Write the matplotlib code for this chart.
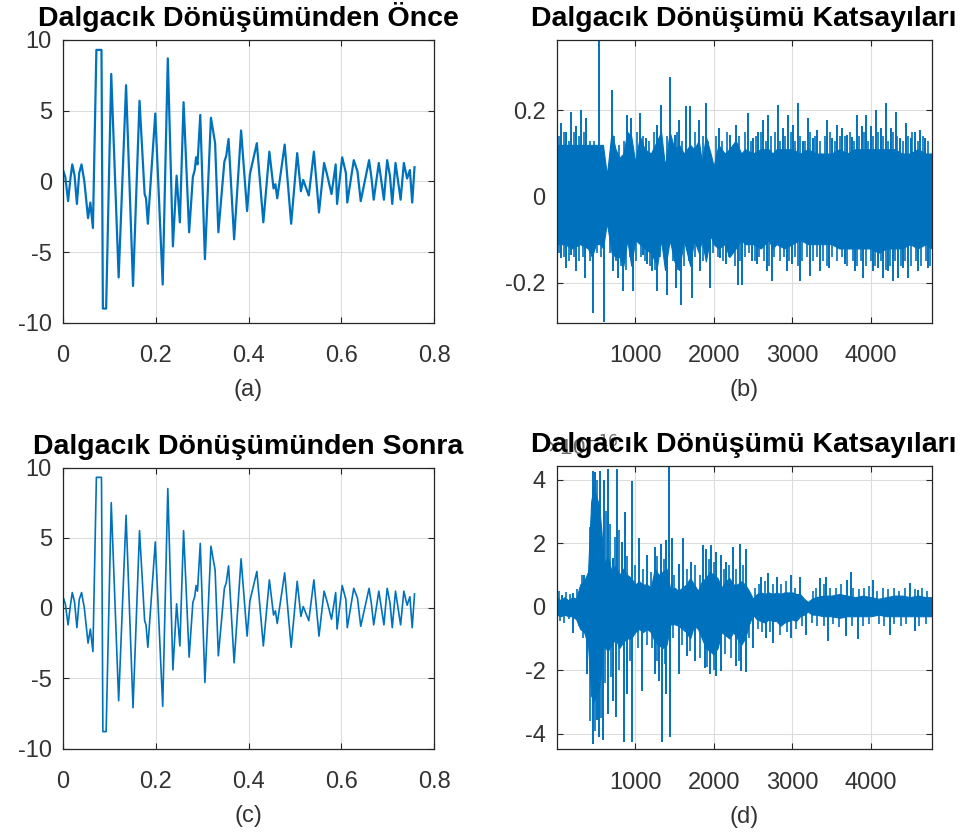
import matplotlib
matplotlib.use("Agg")
import matplotlib.pyplot as plt

plt.rcParams['font.family'] = ['Liberation Sans', 'DejaVu Sans']
plt.rcParams['axes.unicode_minus'] = False

# ---------------- data ----------------
# (a) signal before the wavelet transform: (time s, amplitude)
a_t = [0.000, 0.005, 0.011, 0.016, 0.020, 0.025, 0.030, 0.035, 0.040, 0.046, 0.054, 0.059, 0.0645,
       0.072, 0.083, 0.086, 0.093, 0.104, 0.120, 0.136, 0.151, 0.165, 0.176, 0.179, 0.183, 0.199,
       0.215, 0.226, 0.237, 0.245, 0.252, 0.260, 0.272, 0.280, 0.284, 0.287, 0.290, 0.296, 0.306,
       0.319, 0.328, 0.335, 0.348, 0.352, 0.357, 0.369, 0.384, 0.397, 0.403, 0.418, 0.432, 0.445,
       0.454, 0.458, 0.462, 0.478, 0.492, 0.505, 0.513, 0.518, 0.530, 0.541, 0.552, 0.563, 0.570,
       0.579, 0.588, 0.591, 0.602, 0.610, 0.613, 0.627, 0.635, 0.642, 0.660, 0.665, 0.670, 0.681,
       0.692, 0.699, 0.705, 0.710, 0.717, 0.728, 0.735, 0.742, 0.748, 0.753, 0.758]
a_y = [0.8, 0.3, -1.4, 0.2, 1.2, 0.4, -1.6, 0.6, 1.2, 0.0, -2.6, -1.5, -3.3,
       9.3, 9.3, -9.0, -9.0, 7.6, -6.8, 6.8, -7.4, 5.7, -0.9, -1.2, -3.0, 4.8,
       -7.3, 8.7, -4.6, 0.4, -2.9, 5.6, -3.6, 0.3, 0.8, 1.7, 1.2, 4.7, -5.5,
       4.5, 2.7, -3.6, 1.4, 1.8, 3.0, -4.1, 3.6, -2.1, 0.5, 2.7, -2.9, 2.1,
       -0.5, -0.2, -1.2, 2.6, -3.0, 2.0, -0.7, 0.1, -1.0, 2.1, -2.2, 1.3, 0.4,
       -0.9, 1.2, -1.6, 1.7, 0.6, -1.5, 1.5, 0.7, -1.4, 1.5, 0.3, -1.3, 1.3,
       -1.3, 1.5, 0.4, -1.6, 1.3, -1.3, 1.3, 0.2, 0.8, -1.5, 1.0]

# (c) signal after the wavelet transform
c_t = list(a_t)
c_y = [0.8, 0.3, -1.2, 0.2, 1.1, 0.4, -1.4, 0.6, 1.1, 0.0, -2.5, -1.5, -3.1,
       9.3, 9.3, -8.8, -8.8, 7.5, -6.6, 6.6, -7.1, 5.5, -0.9, -1.2, -2.8, 4.7,
       -7.0, 8.5, -4.4, 0.3, -2.7, 5.5, -3.5, 0.4, 0.8, 1.6, 1.2, 4.6, -5.3,
       4.4, 2.7, -3.4, 1.4, 1.8, 3.0, -3.9, 3.5, -2.0, 0.5, 2.6, -2.7, 2.0,
       -0.5, -0.2, -1.1, 2.5, -2.8, 1.9, -0.6, 0.1, -0.9, 2.0, -2.0, 1.2, 0.4,
       -0.8, 1.1, -1.5, 1.6, 0.6, -1.4, 1.4, 0.7, -1.3, 1.4, 0.3, -1.2, 1.2,
       -1.2, 1.4, 0.4, -1.4, 1.2, -1.2, 1.2, 0.2, 0.8, -1.4, 1.0]

# (b) wavelet coefficients: dense core band, spike tips and small edge teeth
b_core_idx = [1, 100, 200, 300, 400, 450, 500, 560, 590, 640, 700, 750, 800, 850, 900, 950, 1000,
              1060, 1120, 1200, 1280, 1330, 1380, 1440, 1500, 1560, 1620, 1700, 1750, 1810, 1850,
              1900, 1960, 2000, 2060, 2140, 2200, 2280, 2350, 2400, 2500, 2600, 2700, 2750, 2800,
              2900, 3000, 3100, 3200, 3300, 3400, 3500, 3600, 3700, 3800, 3900, 4000, 4100, 4200,
              4300, 4400, 4500, 4600, 4700, 4776]
b_core_hi = [0.12, 0.12, 0.12, 0.12, 0.12, 0.12, 0.12, 0.12, 0.12, 0.05, 0.15, 0.11, 0.09, 0.10,
             0.15, 0.14, 0.08, 0.14, 0.11, 0.10, 0.13, 0.15, 0.07, 0.15, 0.11, 0.12, 0.10, 0.12,
             0.11, 0.13, 0.08, 0.14, 0.10, 0.07, 0.12, 0.10, 0.11, 0.13, 0.10, 0.11, 0.10, 0.11,
             0.11, 0.10, 0.11, 0.11, 0.11, 0.10, 0.11, 0.10, 0.10, 0.10, 0.11, 0.10, 0.11, 0.11,
             0.11, 0.11, 0.11, 0.11, 0.10, 0.10, 0.11, 0.10, 0.10]
b_core_lo = [-0.11, -0.11, -0.12, -0.11, -0.12, -0.14, -0.11, -0.11, -0.12, -0.06, -0.13, -0.14,
             -0.14, -0.16, -0.10, -0.16, -0.10, -0.11, -0.12, -0.13, -0.16, -0.10, -0.17, -0.10,
             -0.15, -0.17, -0.10, -0.16, -0.10, -0.13, -0.10, -0.15, -0.09, -0.11, -0.12, -0.11,
             -0.14, -0.12, -0.10, -0.11, -0.11, -0.12, -0.10, -0.12, -0.11, -0.12, -0.11, -0.10,
             -0.11, -0.11, -0.11, -0.11, -0.12, -0.12, -0.12, -0.12, -0.12, -0.13, -0.12, -0.12,
             -0.12, -0.11, -0.12, -0.11, -0.12]
b_up_idx = [62, 125, 189, 253, 316, 380, 538, 699, 890, 941, 1067, 1143, 1279, 1335, 1449, 1504,
            1560, 1645, 1696, 1814, 1899, 2069, 2205, 2281, 2442, 2506, 2570, 2633, 2697, 2816,
            2879, 2943, 3015, 3070, 3133, 3197, 3269, 3320, 3447, 3511, 3575, 3638, 3693, 3757,
            3820, 3884, 3939, 4003, 4062, 4126, 4189, 4253, 4317, 4372, 4444, 4507, 4562, 4626,
            4689]
b_up_val = [0.17, 0.15, 0.197, 0.163, 0.20, 0.182, 0.363, 0.247, 0.189, 0.182, 0.193, 0.136,
            0.166, 0.212, 0.278, 0.143, 0.178, 0.209, 0.209, 0.178, 0.216, 0.159, 0.143, 0.166,
            0.193, 0.136, 0.15, 0.178, 0.19, 0.212, 0.159, 0.19, 0.166, 0.216, 0.128, 0.182,
            0.136, 0.155, 0.178, 0.136, 0.166, 0.159, 0.143, 0.139, 0.19, 0.163, 0.19, 0.163,
            0.20, 0.159, 0.216, 0.159, 0.197, 0.136, 0.17, 0.136, 0.15, 0.155, 0.136]
b_dn_idx = [62, 125, 189, 253, 359, 457, 602, 720, 784, 848, 975, 1101, 1156, 1220, 1279, 1407,
            1517, 1589, 1730, 1823, 1950, 2078, 2163, 2311, 2357, 2485, 2548, 2676, 2739, 2930,
            2994, 3100, 3227, 3354, 3473, 3672, 3799, 3905, 4033, 4096, 4160, 4223, 4278, 4351,
            4414, 4478, 4605, 4732]
b_dn_val = [-0.141, -0.165, -0.134, -0.172, -0.188, -0.27, -0.29, -0.172, -0.188, -0.219, -0.219,
            -0.134, -0.157, -0.172, -0.219, -0.227, -0.212, -0.25, -0.234, -0.172, -0.212, -0.141,
            -0.157, -0.204, -0.204, -0.149, -0.157, -0.172, -0.196, -0.172, -0.157, -0.196,
            -0.184, -0.172, -0.165, -0.157, -0.172, -0.188, -0.172, -0.165, -0.188, -0.172,
            -0.196, -0.188, -0.165, -0.188, -0.172, -0.165]
b_tooth_up_idx = [30, 95, 160, 220, 285, 350, 420, 480, 730, 790, 860, 1020, 1100, 1180, 1240,
                  1400, 1530, 1600, 1760, 1870, 1930, 2030, 2110, 2170, 2320, 2400, 2470, 2540,
                  2600, 2660, 2730, 2780, 2850, 2910, 2980, 3040, 3100, 3160, 3230, 3290, 3350,
                  3420, 3480, 3540, 3610, 3670, 3730, 3790, 3850, 3910, 3970, 4030, 4090, 4160,
                  4220, 4280, 4340, 4410, 4470, 4530, 4600, 4660, 4730]
b_tooth_up_val = [0.14, 0.15, 0.13, 0.15, 0.14, 0.15, 0.13, 0.13, 0.14, 0.12, 0.13, 0.15, 0.14,
                  0.13, 0.15, 0.14, 0.15, 0.13, 0.15, 0.14, 0.13, 0.14, 0.13, 0.15, 0.14, 0.15,
                  0.13, 0.14, 0.15, 0.13, 0.14, 0.15, 0.13, 0.14, 0.15, 0.13, 0.14, 0.13, 0.15,
                  0.14, 0.13, 0.14, 0.15, 0.13, 0.14, 0.14, 0.15, 0.13, 0.14, 0.15, 0.13, 0.14,
                  0.15, 0.14, 0.13, 0.15, 0.14, 0.13, 0.14, 0.15, 0.13, 0.14, 0.13]
b_tooth_dn_idx = [30, 95, 160, 220, 290, 330, 420, 520, 560, 680, 760, 820, 880, 940, 1010,
                  1070, 1130, 1190, 1250, 1320, 1380, 1480, 1550, 1620, 1690, 1760, 1860, 1920,
                  1990, 2050, 2120, 2200, 2270, 2340, 2400, 2450, 2520, 2580, 2640, 2700, 2770,
                  2840, 2900, 2960, 3030, 3070, 3130, 3190, 3260, 3320, 3390, 3440, 3510, 3570,
                  3640, 3700, 3770, 3830, 3880, 3940, 4000, 4060, 4130, 4190, 4250, 4310, 4380,
                  4440, 4510, 4570, 4640, 4700, 4760]
b_tooth_dn_val = [-0.13, -0.14, -0.15, -0.14, -0.15, -0.14, -0.15, -0.13, -0.14, -0.13, -0.15,
                  -0.16, -0.17, -0.14, -0.15, -0.14, -0.15, -0.16, -0.17, -0.14, -0.13, -0.15,
                  -0.17, -0.16, -0.15, -0.14, -0.15, -0.14, -0.13, -0.14, -0.15, -0.14, -0.16,
                  -0.15, -0.14, -0.13, -0.15, -0.14, -0.15, -0.16, -0.14, -0.15, -0.14, -0.15,
                  -0.14, -0.16, -0.15, -0.14, -0.15, -0.14, -0.15, -0.16, -0.14, -0.15, -0.14,
                  -0.16, -0.15, -0.16, -0.15, -0.16, -0.15, -0.16, -0.15, -0.17, -0.16, -0.15,
                  -0.16, -0.15, -0.16, -0.15, -0.16, -0.15, -0.16]

# (d) wavelet coefficients after the transform (x 1e-16)
d_core_idx = [1, 50, 100, 150, 200, 250, 300, 350, 400, 440, 470, 500, 540, 570, 600, 650, 700,
              750, 800, 850, 900, 950, 1000, 1050, 1100, 1150, 1200, 1250, 1300, 1350, 1400, 1450,
              1500, 1550, 1600, 1650, 1700, 1750, 1800, 1850, 1900, 1950, 2000, 2050, 2100, 2150,
              2200, 2250, 2300, 2350, 2400, 2450, 2500, 2550, 2600, 2650, 2700, 2750, 2800, 2850,
              2900, 2950, 3000, 3050, 3100, 3150, 3200, 3250, 3300, 3400, 3500, 3600, 3700, 3800,
              3900, 4000, 4100, 4200, 4300, 4400, 4500, 4600, 4700, 4776]
d_core_hi = [0.3, 0.2, 0.3, 0.2, 0.3, 0.25, 0.7, 0.8, 1.1, 3.3, 3.8, 3.5, 3.2, 2.4, 1.3, 1.6,
             1.1, 1.3, 1.0, 1.2, 1.0, 0.9, 0.7, 0.8, 0.7, 0.7, 0.6, 1.2, 1.0, 1.1, 1.2, 0.5, 0.6,
             0.5, 0.6, 0.7, 0.9, 0.7, 0.5, 0.8, 0.9, 1.1, 1.0, 0.9, 0.6, 0.8, 0.9, 0.7, 0.7, 0.8,
             0.7, 0.5, 0.25, 0.4, 0.45, 0.4, 0.45, 0.4, 0.45, 0.4, 0.45, 0.45, 0.45, 0.4, 0.4,
             0.25, 0.15, 0.25, 0.3, 0.35, 0.35, 0.4, 0.35, 0.3, 0.35, 0.3, 0.25, 0.3, 0.35, 0.35,
             0.3, 0.35, 0.3, 0.3]
d_core_lo = [-0.25, -0.3, -0.25, -0.3, -0.3, -0.4, -0.7, -0.8, -1.2, -2.8, -3.0, -2.8, -2.6,
             -2.0, -1.2, -1.4, -1.2, -1.0, -1.3, -1.1, -1.0, -1.0, -0.8, -0.7, -0.8, -0.7, -0.8,
             -1.1, -1.2, -1.3, -1.2, -0.55, -0.55, -0.6, -0.7, -0.8, -1.0, -0.6, -0.7, -1.0,
             -1.3, -1.4, -1.5, -1.3, -0.8, -0.9, -1.0, -0.8, -1.0, -1.2, -1.0, -0.55, -0.25,
             -0.4, -0.45, -0.5, -0.4, -0.45, -0.45, -0.6, -0.5, -0.45, -0.4, -0.45, -0.3, -0.25,
             -0.15, -0.25, -0.25, -0.3, -0.3, -0.35, -0.3, -0.3, -0.3, -0.3, -0.25, -0.3, -0.3,
             -0.3, -0.3, -0.3, -0.3, -0.3]
d_up_idx = [64, 212, 348, 382, 458, 488, 551, 602, 657, 712, 763, 827, 869, 962, 1051, 1145, 1251,
            1323, 1399, 1429, 1463, 1560, 1611, 1717, 1866, 1908, 1972, 2035, 2099, 2162, 2247,
            2332, 2408, 2608, 2692, 2807, 2989, 3095, 3350, 3434, 3697, 3744, 4028, 4494, 4600]
d_up_val = [0.38, 0.43, 1.0, 0.9, 4.28, 4.23, 4.28, 4.0, 4.33, 1.52, 4.33, 2.04, 2.98, 3.97, 2.15,
            1.63, 1.89, 1.99, 2.09, 4.44, 2.15, 1.36, 2.15, 1.42, 1.94, 1.83, 1.94, 1.73, 1.63,
            1.42, 1.89, 1.99, 1.83, 0.95, 1.05, 0.95, 1.0, 0.95, 0.9, 0.95, 0.84, 1.1, 0.84, 0.74,
            0.53]
d_dn_idx = [212, 390, 466, 509, 543, 594, 657, 721, 755, 856, 899, 954, 1081, 1251, 1306, 1348,
            1399, 1442, 1560, 1654, 1760, 1887, 1959, 2035, 2099, 2281, 2353, 2408, 2502, 2671,
            2756, 2989, 3180, 3455, 3689, 3837, 4240, 4558]
d_dn_val = [-0.82, -2.12, -4.31, -3.58, -4.1, -4.2, -3.38, -2.96, -3.48, -4.26, -2.75, -4.26,
            -2.65, -2.12, -2.33, -4.26, -2.75, -4.1, -2.12, -1.55, -1.7, -1.92, -2.12, -2.18,
            -2.02, -1.86, -2.02, -2.07, -1.29, -0.98, -1.13, -0.98, -0.88, -1.08, -0.93, -1.03,
            -0.88, -0.77]
d_tooth_up_idx = [30, 120, 170, 260, 320, 420, 520, 630, 680, 740, 790, 900, 1000, 1100, 1200,
                  1280, 1370, 1500, 1660, 1760, 1830, 1940, 2000, 2130, 2200, 2280, 2370, 2530,
                  2580, 2650, 2750, 2860, 2920, 3040, 3260, 3300, 3400, 3480, 3560, 3620, 3780,
                  3850, 3920, 3980, 4080, 4150, 4220, 4300, 4360, 4430, 4560, 4650, 4720]
d_tooth_up_val = [0.5, 0.45, 0.4, 0.55, 1.0, 2.5, 4.0, 3.0, 2.6, 2.2, 2.4, 1.6, 1.3, 1.2, 1.1,
                  1.6, 1.5, 1.0, 1.2, 1.3, 1.0, 1.5, 1.4, 1.2, 1.3, 1.2, 1.3, 0.6, 0.7, 0.8, 0.7,
                  0.7, 0.8, 0.6, 0.5, 0.6, 0.7, 0.6, 0.6, 0.7, 0.6, 0.55, 0.6, 0.65, 0.5, 0.6, 0.55,
                  0.6, 0.5, 0.6, 0.55, 0.6, 0.5]
d_tooth_dn_idx = [40, 100, 160, 280, 340, 430, 490, 560, 620, 690, 800, 940, 1030, 1150, 1210,
                  1280, 1380, 1480, 1600, 1700, 1830, 1920, 2000, 2150, 2220, 2320, 2450, 2560,
                  2620, 2720, 2850, 2930, 3050, 3120, 3250, 3320, 3400, 3520, 3600, 3760, 3900,
                  3980, 4100, 4170, 4300, 4380, 4450, 4620, 4700]
d_tooth_dn_val = [-0.45, -0.5, -0.4, -0.6, -1.0, -3.6, -3.9, -3.5, -2.4, -2.2, -2.0, -1.7, -1.3,
                  -1.2, -1.3, -1.7, -1.8, -1.0, -1.2, -1.4, -1.6, -1.9, -2.0, -1.5, -1.6, -1.7,
                  -1.0, -0.7, -0.8, -0.8, -0.9, -0.8, -0.7, -0.6, -0.5, -0.6, -0.6, -0.55, -0.65,
                  -0.6, -0.6, -0.55, -0.55, -0.6, -0.55, -0.6, -0.55, -0.6, -0.55]

titles = ["Dalgacık Dönüşümünden Önce", "Dalgacık Dönüşümü Katsayıları",
          "Dalgacık Dönüşümünden Sonra", "Dalgacık Dönüşümü Katsayıları"]
labels = ["(a)", "(b)", "(c)", "(d)"]

# ---------------- drawing ----------------
BLUE = '#0072BD'
TXT = '#262626'
W, H = 967, 839
fig = plt.figure(figsize=(W / 100, H / 100), dpi=100)


def box(l, t, r, b):
    return [l / W, 1 - b / H, (r - l) / W, (b - t) / H]


axa = fig.add_axes(box(63, 40, 434, 322.7))
axb = fig.add_axes(box(556.7, 40, 931.7, 322.7))
axc = fig.add_axes(box(63, 467.5, 434, 748.5))
axd = fig.add_axes(box(556.7, 465.7, 931.7, 749.3))


def style(ax, title, label):
    ax.grid(True, color='#dcdcdc', linewidth=0.8)
    ax.set_axisbelow(True)
    for s in ax.spines.values():
        s.set_color(TXT)
        s.set_linewidth(0.9)
    ax.tick_params(direction='in', top=True, right=True, length=4, width=0.8,
                   colors=TXT, labelsize=17, labelcolor='#333333')
    ax.tick_params(axis='x', pad=16)
    ax.tick_params(axis='y', pad=8)
    ax.set_title(title, fontsize=20.5, fontweight='bold', color='black', pad=10, zorder=5)
    ax.set_xlabel(label, fontsize=17, color='#333333', labelpad=9)


for ax, t, y, lw in ((axa, a_t, a_y, 1.6), (axc, c_t, c_y, 1.2)):
    ax.plot(t, y, color=BLUE, linewidth=lw)
    ax.set_xlim(0, 0.8)
    ax.set_ylim(-10, 10)
    ax.set_xticks([0, 0.2, 0.4, 0.6, 0.8])
    ax.set_xticklabels(['0', '0.2', '0.4', '0.6', '0.8'])
    ax.set_yticks([-10, -5, 0, 5, 10])

axb.fill_between(b_core_idx, b_core_lo, b_core_hi, color=BLUE, linewidth=0.8, edgecolor=BLUE)
axb.vlines(b_tooth_up_idx, 0, b_tooth_up_val, color=BLUE, linewidth=1.2)
axb.vlines(b_tooth_dn_idx, 0, b_tooth_dn_val, color=BLUE, linewidth=1.2)
axb.vlines(b_up_idx, 0, b_up_val, color=BLUE, linewidth=1.4)
axb.vlines(b_dn_idx, 0, b_dn_val, color=BLUE, linewidth=1.4)
axb.set_xlim(1, 4776)
axb.set_ylim(-0.292, 0.363)
axb.set_xticks([1000, 2000, 3000, 4000])
axb.set_yticks([-0.2, 0, 0.2])
axb.set_yticklabels(['-0.2', '0', '0.2'])

axd.fill_between(d_core_idx, d_core_lo, d_core_hi, color=BLUE, linewidth=0.8, edgecolor=BLUE)
axd.vlines(d_tooth_up_idx, 0, d_tooth_up_val, color=BLUE, linewidth=1.2)
axd.vlines(d_tooth_dn_idx, 0, d_tooth_dn_val, color=BLUE, linewidth=1.2)
axd.vlines(d_up_idx, 0, d_up_val, color=BLUE, linewidth=1.4)
axd.vlines(d_dn_idx, 0, d_dn_val, color=BLUE, linewidth=1.4)
axd.set_xlim(1, 4776)
axd.set_ylim(-4.49, 4.44)
axd.set_xticks([1000, 2000, 3000, 4000])
axd.set_yticks([-4, -2, 0, 2, 4])
axd.set_yticklabels(['-4', '-2', '0', '2', '4'])
axd.text(-0.025, 1.02, '×10$^{-16}$', transform=axd.transAxes, fontsize=16,
         color='#666666', ha='left', va='bottom', zorder=1)

for ax, t, l in zip((axa, axb, axc, axd), titles, labels):
    style(ax, t, l)

fig.savefig('out.png', dpi=100)
